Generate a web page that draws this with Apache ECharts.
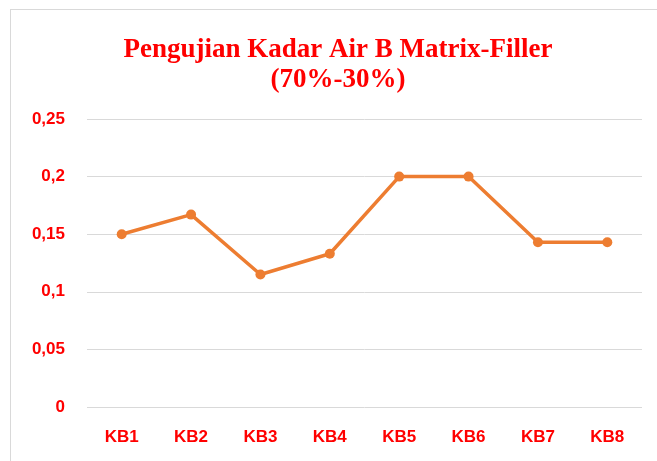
<!DOCTYPE html>
<html>
<head>
<meta charset="utf-8">
<script src="https://cdn.jsdelivr.net/npm/echarts@6/dist/echarts.min.js"></script>
<style>
  html, body { margin: 0; padding: 0; background: #fff; }
  .frame {
    position: absolute; left: 10px; top: 9px; width: 660px; height: 470px;
    border: 1px solid #d9d9d9; box-sizing: border-box;
  }
  #chart { position: absolute; left: 0; top: 0; width: 657px; height: 461px; }
</style>
</head>
<body>
<div class="frame"></div>
<div id="chart"></div>
<script>
  // data
  const categories = ['KB1', 'KB2', 'KB3', 'KB4', 'KB5', 'KB6', 'KB7', 'KB8']
  const kadarAir = [0.15, 0.167, 0.115, 0.133, 0.2, 0.2, 0.143, 0.143]
  const yTicks = [0, 0.05, 0.1, 0.15, 0.2, 0.25]

  const red = '#ff0000'
  const myChart = echarts.init(document.getElementById('chart'))
  const option = {
    animation: false,
    title: {
      text: 'Pengujian Kadar Air B Matrix-Filler\n(70%-30%)',
      left: 333,
      top: 30,
      textAlign: 'center',
      textStyle: {
        fontFamily: 'Liberation Serif',
        fontWeight: 'bold',
        fontSize: 27,
        color: red,
        lineHeight: 30
      }
    },
    grid: {
      left: 87,
      right: 15,
      top: 119,
      bottom: 54
    },
    xAxis: {
      type: 'category',
      data: categories,
      boundaryGap: true,
      axisLine: { show: false },
      axisTick: { show: false },
      axisLabel: {
        color: red,
        fontWeight: 'bold',
        fontSize: 17,
        fontFamily: 'Liberation Sans',
        margin: 22
      }
    },
    yAxis: {
      type: 'value',
      min: yTicks[0],
      max: yTicks[yTicks.length - 1],
      interval: 0.05,
      axisLine: { show: false },
      axisTick: { show: false },
      splitLine: { lineStyle: { color: '#d9d9d9', width: 1 } },
      axisLabel: {
        color: red,
        fontWeight: 'bold',
        fontSize: 17,
        fontFamily: 'Liberation Sans',
        margin: 22,
        formatter: function (v) {
          return String(Math.round(v * 100) / 100).replace('.', ',')
        }
      }
    },
    series: [
      {
        name: 'Kadar Air',
        type: 'line',
        data: kadarAir,
        symbol: 'circle',
        symbolSize: 10,
        lineStyle: { color: '#ed7d31', width: 3.5 },
        itemStyle: { color: '#ed7d31' }
      }
    ]
  }
  myChart.setOption(option)
</script>
</body>
</html>
